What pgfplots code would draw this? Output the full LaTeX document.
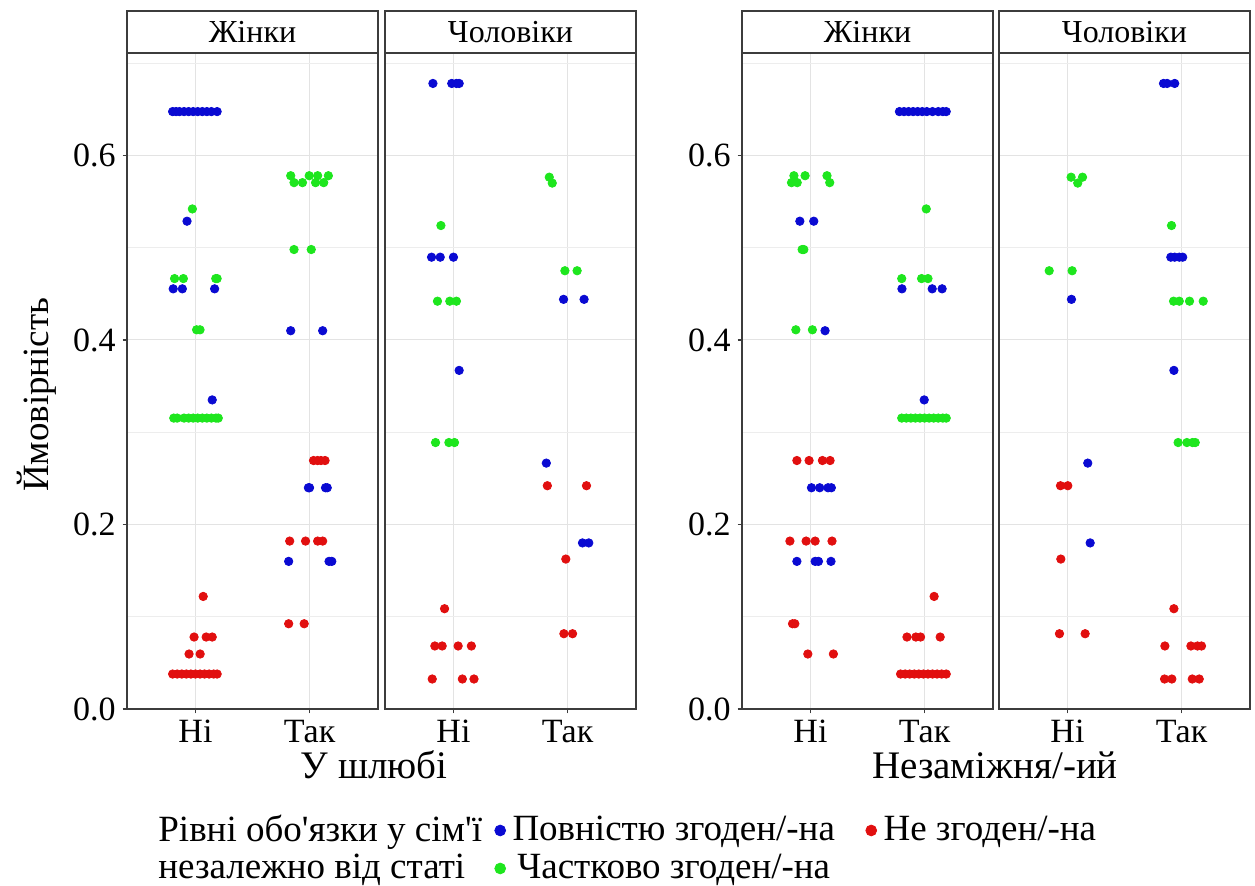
\documentclass[border=0pt]{standalone}
\usepackage{fontspec}
\setmainfont{Liberation Serif}[Ligatures=TeXOff]
\usepackage{pgfplots}
\pgfplotsset{compat=1.18}

\definecolor{cblue}{RGB}{10,10,210}
\definecolor{cred}{RGB}{225,15,15}
\definecolor{cgreen}{RGB}{30,230,30}
\definecolor{bordercol}{RGB}{60,60,60}

\pgfplotsset{
  facet/.style={
    scale only axis, width=125.5pt, height=328pt, anchor=south west,
    xmin=0.4, xmax=2.6, ymin=0, ymax=0.711,
    xtick={1,2}, xticklabels={Ні,Так},
    ytick={0,0.2,0.4,0.6}, minor ytick={0.1,0.3,0.5,0.7},
    xmajorgrids, ymajorgrids, yminorgrids,
    major grid style={gray!22, line width=0.55pt},
    minor grid style={gray!14, line width=0.35pt},
    axis line style={bordercol, line width=0.8pt},
    tick align=outside, tick pos=left,
    major tick length=2.2pt, minor tick length=0pt,
    tick style={bordercol, line width=0.6pt},
    tick label style={font=\fontsize{17}{20}\selectfont, black},
    /pgf/number format/assume math mode=true,
    yticklabel style={/pgf/number format/fixed, /pgf/number format/fixed zerofill, /pgf/number format/precision=1},
    every axis title/.style={at={(0.5,1)}, anchor=south, draw=bordercol, line width=0.8pt,
      fill=white, minimum width=125.5pt, minimum height=21pt, inner sep=0pt, outer sep=0pt,
      font=\fontsize{16}{19}\selectfont},
    every axis x label/.style={anchor=base, font=\fontsize{19.5}{23}\selectfont},
  },
  inner/.style={yticklabels={}, every y tick/.append style={draw=none}},
  pts/.style={only marks, mark=*, mark size=2.1pt, color=#1, mark options={draw=#1, fill=#1}},
}

\begin{document}
\begin{tikzpicture}
\useasboundingbox (0pt,0pt) rectangle (627.5pt,442.5pt);

% ---- У шлюбі, Жінки
\begin{axis}[facet, at={(63.5pt,88pt)}, title={Жінки},
  xlabel={У шлюбі},
  xlabel style={at={(axis description cs:0.985,-0.1052)}},
  ylabel={Ймовірність},
  every axis y label/.style={at={(axis description cs:-0.3586,0.479)}, rotate=90, anchor=center,
    font=\fontsize{18.5}{22}\selectfont},
  legend columns=2,
  legend style={at={(axis description cs:1.4622,-0.2172)}, anchor=west, draw=none, fill=none,
    inner sep=0pt, column sep=0pt, row sep=0pt, font=\fontsize{18.5}{22}\selectfont,
    nodes={inner sep=0.75pt, text height=13pt, text depth=4.5pt},
    /tikz/every odd column/.append style={column sep=2.5pt},
    /tikz/every even column/.append style={column sep=14.5pt}},
  legend image code/.code={\fill[#1] (2.7pt,1pt) circle (2.7pt);},
]
\addplot[pts=cblue] coordinates {
  (0.80,0.6475)(0.83,0.6475)(0.86,0.6475)(0.90,0.6475)(0.94,0.6475)(0.98,0.6475)
  (1.02,0.6475)(1.06,0.6475)(1.10,0.6475)(1.14,0.6475)(1.19,0.6475)
  (0.926,0.5287)(0.805,0.4554)(0.885,0.4554)(1.168,0.4554)(1.147,0.335)
  (1.835,0.41)(2.115,0.41)(1.99,0.2398)(2.00,0.2398)(2.14,0.2398)(2.155,0.2398)
  (1.817,0.16)(2.171,0.16)(2.195,0.16)};
\addlegendentry{Повністю згоден/-на}
\addplot[pts=cred] coordinates {
  (1.068,0.122)(0.988,0.078)(1.094,0.078)(1.147,0.078)(0.944,0.0596)(1.041,0.0596)
  (0.80,0.0379)(0.84,0.0379)(0.88,0.0379)(0.92,0.0379)(0.96,0.0379)(1.00,0.0379)
  (1.04,0.0379)(1.08,0.0379)(1.12,0.0379)(1.16,0.0379)(1.19,0.0379)
  (2.035,0.2693)(2.07,0.2693)(2.10,0.2693)(2.136,0.2693)
  (1.826,0.182)(1.965,0.182)(2.071,0.182)(2.115,0.182)(1.817,0.0924)(1.953,0.0924)};
\addlegendentry{Не згоден/-на}
\addplot[pts=cgreen] coordinates {
  (0.973,0.542)(0.817,0.4665)(0.894,0.4665)(1.178,0.4665)(1.19,0.4665)(1.01,0.411)(1.04,0.411)
  (0.81,0.3153)(0.84,0.3153)(0.90,0.3153)(0.94,0.3153)(0.98,0.3153)(1.02,0.3153)
  (1.06,0.3153)(1.10,0.3153)(1.14,0.3153)(1.18,0.3153)(1.20,0.3153)
  (1.835,0.578)(1.997,0.578)(2.071,0.578)(2.165,0.578)
  (1.864,0.5705)(1.938,0.5705)(2.053,0.5705)(2.124,0.5705)(1.864,0.498)(2.015,0.498)};
\addlegendentry{Частково згоден/-на}
\end{axis}

% ---- У шлюбі, Чоловіки
\begin{axis}[facet, inner, at={(192.5pt,88pt)}, title={Чоловіки}]
\addplot[pts=cblue] coordinates {
  (0.82,0.678)(0.985,0.678)(1.026,0.678)(1.05,0.678)(0.808,0.4897)(0.884,0.4897)(1.0,0.4897)
  (1.05,0.367)(1.965,0.444)(2.145,0.444)(1.814,0.2665)(2.131,0.18)(2.186,0.18)};
\addplot[pts=cred] coordinates {
  (1.823,0.242)(2.166,0.242)(1.985,0.1625)(0.922,0.1087)(1.968,0.0816)(2.044,0.0816)
  (0.837,0.0683)(0.901,0.0683)(1.041,0.0683)(1.157,0.0683)(0.814,0.0325)(1.078,0.0325)(1.18,0.0325)};
\addplot[pts=cgreen] coordinates {
  (1.84,0.5764)(1.866,0.570)(0.89,0.524)(1.977,0.475)(2.084,0.475)(0.86,0.442)(0.968,0.442)
  (1.026,0.442)(0.843,0.2888)(0.96,0.2888)(1.009,0.2888)};
\end{axis}

% ---- Незаміжня/-ий, Жінки
\begin{axis}[facet, at={(371pt,88pt)}, title={Жінки},
  xlabel={Незаміжня/-ий},
  xlabel style={at={(axis description cs:1.008,-0.1052)}}]
\addplot[pts=cblue] coordinates {
  (1.78,0.6475)(1.82,0.6475)(1.86,0.6475)(1.90,0.6475)(1.94,0.6475)(1.98,0.6475)
  (2.02,0.6475)(2.07,0.6475)(2.12,0.6475)(2.16,0.6475)(2.19,0.6475)
  (0.907,0.5287)(1.029,0.5287)(1.802,0.4554)(2.067,0.4554)(2.154,0.4554)(1.128,0.41)
  (1.997,0.335)(1.009,0.2398)(1.081,0.2398)(1.154,0.2398)(1.183,0.2398)
  (0.881,0.16)(1.041,0.16)(1.07,0.16)(1.18,0.16)};
\addplot[pts=cred] coordinates {
  (0.881,0.2693)(0.988,0.2693)(1.105,0.2693)(1.172,0.2693)(0.82,0.182)(0.962,0.182)
  (1.041,0.182)(1.189,0.182)(2.084,0.122)(0.843,0.0924)(0.863,0.0924)
  (1.846,0.078)(1.924,0.078)(1.965,0.078)(2.137,0.078)(0.977,0.0596)(1.201,0.0596)
  (1.79,0.0379)(1.83,0.0379)(1.87,0.0379)(1.91,0.0379)(1.95,0.0379)(1.99,0.0379)
  (2.03,0.0379)(2.07,0.0379)(2.11,0.0379)(2.15,0.0379)(2.19,0.0379)};
\addplot[pts=cgreen] coordinates {
  (0.855,0.578)(0.953,0.578)(1.145,0.578)(0.834,0.5705)(0.884,0.5705)(1.169,0.5705)
  (2.015,0.542)(0.927,0.498)(0.942,0.498)(1.80,0.4665)(1.974,0.4665)(2.03,0.4665)
  (0.872,0.411)(1.017,0.411)
  (1.80,0.3153)(1.84,0.3153)(1.88,0.3153)(1.92,0.3153)(1.96,0.3153)(2.00,0.3153)
  (2.04,0.3153)(2.08,0.3153)(2.12,0.3153)(2.16,0.3153)(2.19,0.3153)};
\end{axis}

% ---- Незаміжня/-ий, Чоловіки
\begin{axis}[facet, inner, at={(499.5pt,88pt)}, title={Чоловіки}]
\addplot[pts=cblue] coordinates {
  (1.842,0.678)(1.874,0.678)(1.94,0.678)(1.906,0.4897)(1.94,0.4897)(1.98,0.4897)(2.01,0.4897)
  (1.035,0.444)(1.933,0.367)(1.178,0.2665)(1.199,0.18)};
\addplot[pts=cred] coordinates {
  (0.939,0.242)(1.003,0.242)(0.942,0.1625)(1.933,0.1087)(0.93,0.0816)(1.155,0.0816)
  (1.854,0.0683)(2.082,0.0683)(2.14,0.0683)(2.175,0.0683)
  (1.851,0.0325)(1.915,0.0325)(2.094,0.0325)(2.155,0.0325)};
\addplot[pts=cgreen] coordinates {
  (1.032,0.5764)(1.132,0.5764)(1.09,0.570)(1.912,0.524)(0.84,0.475)(1.041,0.475)
  (1.93,0.442)(1.98,0.442)(2.07,0.442)(2.19,0.442)
  (1.97,0.2888)(2.047,0.2888)(2.096,0.2888)(2.12,0.2888)};
\end{axis}

\node[anchor=base west, inner sep=0pt, font=\fontsize{18.5}{22}\selectfont] at (79pt,22pt) {Рівні обо'язки у сім'ї};
\node[anchor=base west, inner sep=0pt, font=\fontsize{18.5}{22}\selectfont] at (79pt,3pt) {незалежно від статі};
\end{tikzpicture}
\end{document}
